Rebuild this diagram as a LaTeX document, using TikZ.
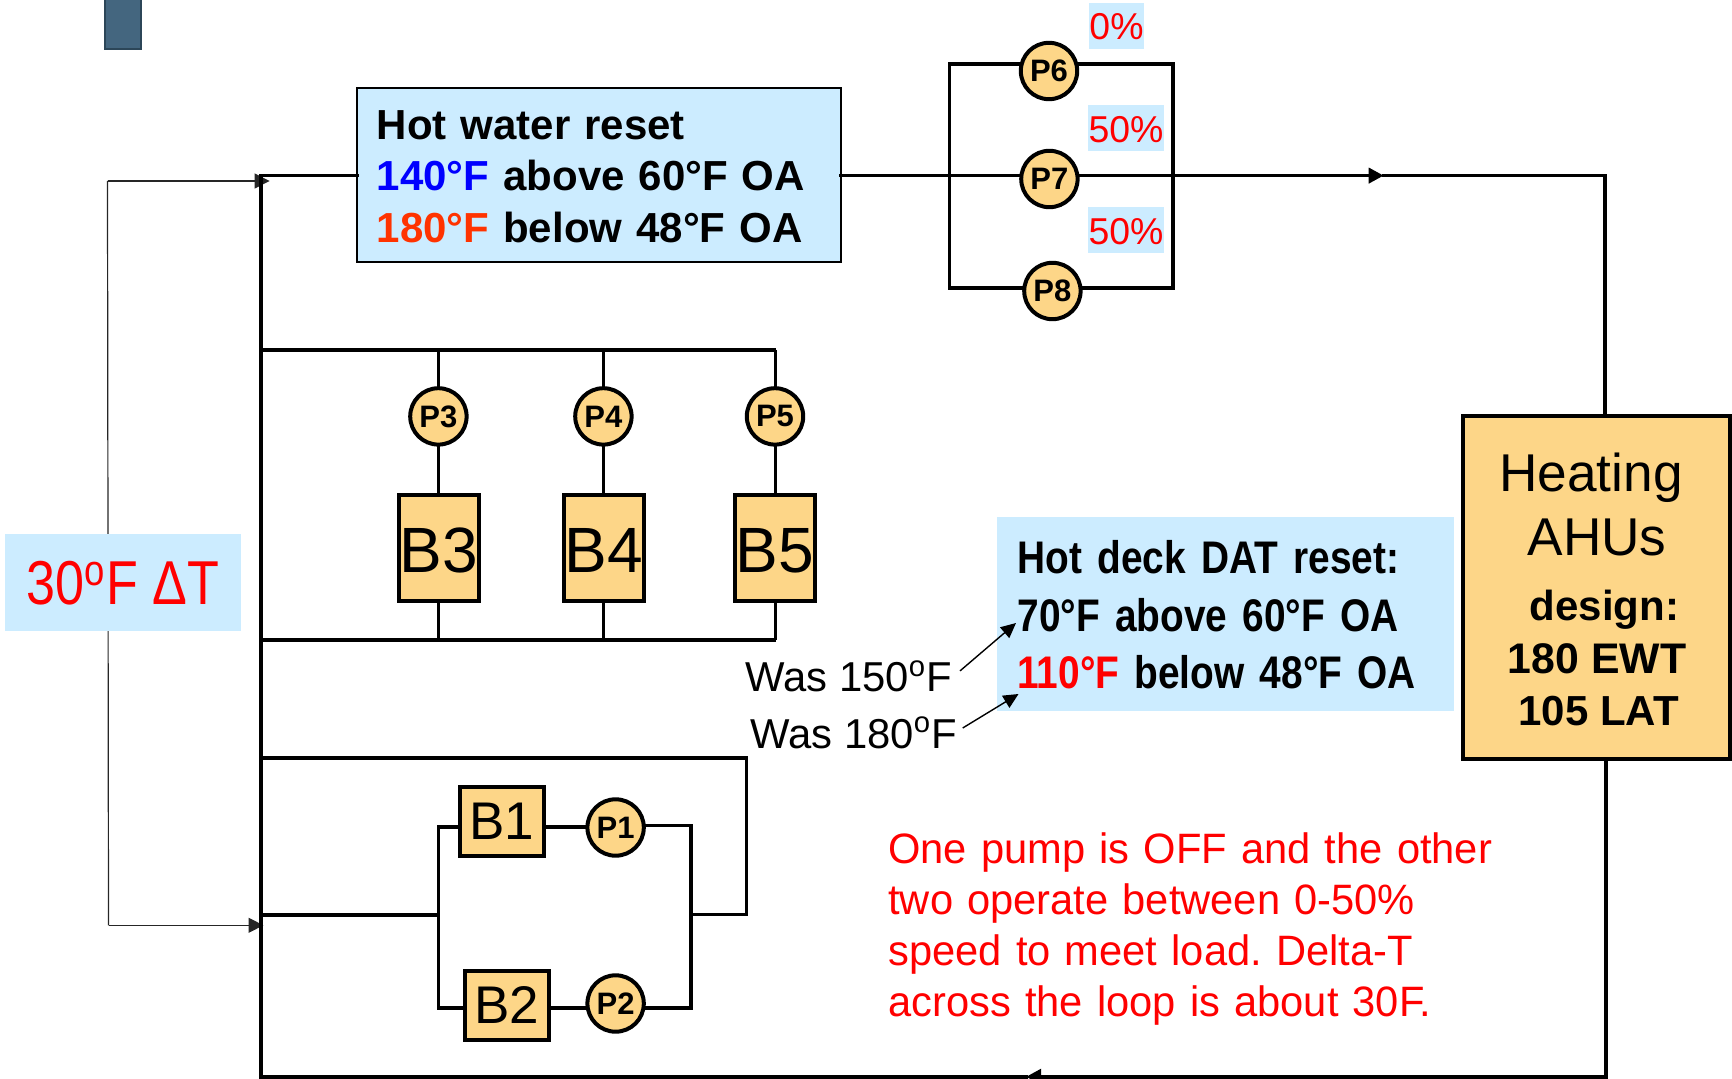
\documentclass[tikz,border=0pt]{standalone}
\usepackage{fontspec}
\setmainfont{Liberation Sans}
\newfontfamily\deckfont[FakeStretch=0.85]{Liberation Sans}
\newfontfamily\dtfont[FakeStretch=0.84]{Liberation Sans}
\newfontfamily\notefont[FakeStretch=0.98]{Liberation Sans}
\usetikzlibrary{arrows.meta}
\definecolor{skyb}{HTML}{CCECFF}
\definecolor{tan1}{HTML}{FDD688}
\definecolor{slate}{HTML}{44667F}
\definecolor{slated}{HTML}{2C4658}
\definecolor{hotr}{HTML}{FF3300}
\tikzset{
  x=0.5pt,y=-0.5pt,
  pipe/.style={line width=1.9pt,line join=miter,line cap=rect},
  thinl/.style={line width=0.6pt,color=black!85},
  pump/.style={circle,draw=black,fill=tan1,line width=2pt,inner sep=0pt,outer sep=0pt,minimum size=28.2pt,font=\fontsize{15.5}{18}\selectfont\bfseries},
  boiler/.style={rectangle,draw=black,fill=tan1,line width=2pt,inner sep=0pt,outer sep=0pt},
  bigb/.style={boiler,minimum width=40pt,minimum height=53pt,text height=24.6pt,text depth=0pt,font=\fontsize{32}{36}\selectfont},
  smallb/.style={boiler,minimum width=42pt,minimum height=34.75pt,font=\fontsize{26.5}{32}\selectfont},
  pct/.style={rectangle,fill=skyb,text=red,inner sep=0pt,minimum height=23pt,text height=14pt,text depth=0pt,font=\fontsize{18.7}{22}\selectfont},
  wasl/.style={anchor=base west,inner sep=0pt,font=\fontsize{20.9}{24}\selectfont},
  ptr/.style={line width=0.7pt,-{Triangle[length=7.5pt,width=7pt]}},
  midtip/.style={-{Triangle[length=7.5pt,width=7.5pt]}}
}
\begin{document}
\frenchspacing
\begin{tikzpicture}
\useasboundingbox (0,0) rectangle (1732,1079);
% marker
\node[rectangle,draw=slated,fill=slate,line width=1pt,minimum width=18.3pt,minimum height=27pt,inner sep=0pt] (mark) at (123,22) {};
% thin delta-T bracket
\coordinate (tA) at (269.6,181);
\coordinate (tB) at (107.5,181);
\coordinate (tC) at (108.5,925.3);
\coordinate (tD) at (263.5,925.3);
\draw[thinl] (tB) -- (tC);
\draw[thinl,midtip] (tB) -- (tA);
\draw[thinl,midtip] (tC) -- (tD);
% boxes
\node[rectangle,draw=black,fill=skyb,line width=1pt,inner xsep=10pt,inner ysep=0pt,outer sep=0pt,text width=222pt,minimum height=87pt,align=left,font=\fontsize{21}{25.8}\selectfont\bfseries] (HW) at (598.8,175.1)
 {\rule{0pt}{15.9pt}Hot water reset\\{\color{blue}140°F} above 60°F OA\\{\color{hotr}180°F} below 48°F OA};
\node[rectangle,fill=skyb,inner sep=0pt,minimum width=118pt,minimum height=48.3pt,text=red,font=\dtfont\fontsize{31}{36}\selectfont] (DT) at (123,582.7) {30\textsuperscript{o}F ΔT};
\node[rectangle,fill=skyb,inner xsep=10.2pt,inner ysep=0pt,text width=208.3pt,minimum height=96.75pt,align=left,font=\deckfont\fontsize{22.85}{28.8}\selectfont\bfseries] (DECK) at (1225.7,613.75)
 {\rule{0pt}{17.8pt}Hot deck DAT reset:\\70°F above 60°F OA\\{\color{red}110°F} below 48°F OA};
\node[boiler,minimum width=133.25pt,minimum height=171.5pt] (AHU) at (1596.3,587.5) {};
\node[align=center,inner sep=0pt,font=\fontsize{21}{25.7}\selectfont] (AHUtext) at (1597,589.6)
 {\fontsize{26.6}{25.7}\selectfont Heating\hspace*{6pt}\\[6.3pt]\fontsize{26.6}{25.7}\selectfont AHUs\\[6.5pt]\bfseries\hspace*{7.5pt}design:\\[1.1pt]\fontsize{21.4}{25.7}\selectfont\bfseries 180 EWT\hspace*{11pt}\\\bfseries\hspace*{1.5pt}105 LAT};
% percent labels
\node[pct,minimum width=27.5pt] (pc6) at (1116.5,26) {0\%};
\node[pct,minimum width=38pt] (pc7) at (1126,128.5) {50\%};
\node[pct,minimum width=38pt] (pc8) at (1126,230.5) {50\%};
% pumps
\node[pump] (P3) at (438.4,416.4) {P3};
\node[pump] (P4) at (603.4,416.4) {P4};
\node[pump] (P5) at (775,416.4) {P5};
\node[pump] (P6) at (1049,71) {P6};
\node[pump] (P7) at (1049.4,179) {P7};
\node[pump] (P8) at (1052.4,291) {P8};
\node[pump] (P1) at (615.6,827.5) {P1};
\node[pump] (P2) at (615.6,1003.5) {P2};
% boilers
\node[bigb] (B3) at (439,547.5) {B3};
\node[bigb] (B4) at (603.5,547.5) {B4};
\node[bigb] (B5) at (775,547.5) {B5};
\node[smallb] (B1) at (501.7,821.7) {B1};
\node[smallb] (B2) at (507,1005.4) {B2};
% junction coordinates
\coordinate (tl) at (261,175.6);
\coordinate (bl) at (261,1076.8);
\coordinate (br) at (1606,1076.8);
\coordinate (tr) at (1605,175.6);
\coordinate (hdrT) at (261,349.9);
\coordinate (hdrTe) at (774,349.9);
\coordinate (hdrB) at (261,640.2);
\coordinate (hdrBe) at (774,640.2);
\coordinate (loopT) at (261,758.3);
\coordinate (loopTe) at (746.5,758.3);
\coordinate (loopBe) at (746.5,914.5);
\coordinate (loopR) at (691,914.5);
\coordinate (inL) at (261,915.3);
\coordinate (inJ) at (438.4,915.3);
\coordinate (jt) at (438.4,827);
\coordinate (jb) at (438.4,1007.6);
\coordinate (rt) at (691,825.5);
\coordinate (rb) at (691,1008.3);
\coordinate (ltop) at (949.4,63.7);
\coordinate (lbot) at (949.4,288);
\coordinate (rtop) at (1173,63.7);
\coordinate (rbot) at (1173,288);
\coordinate (tipT) at (1383.7,175.6);
\coordinate (tipB) at (1026,1076.8);
% main loop
\draw[pipe] (HW.west |- tl) -- (tl) -- (bl) -- (tipB);
\draw[pipe,midtip] (br) -- (tipB);
\draw[pipe] (AHU.south -| br) -- (br);
\draw[pipe] (tipT) -- (tr) -- (AHU.north -| tr);
\draw[pipe,midtip] (P7.east |- tipT) -- (tipT);
\draw[pipe] (HW.east |- tipT) -- (P7.west |- tipT);
% parallel pumps
\draw[pipe] (P6.west |- ltop) -- (ltop) -- (lbot) -- (lbot -| P8.west);
\draw[pipe] (P6.east |- rtop) -- (rtop) -- (rbot) -- (rbot -| P8.east);
% B3-B5
\draw[pipe] (hdrT) -- (hdrTe);
\draw[pipe] (hdrB) -- (hdrBe);
\foreach \n/\b in {P3/B3,P4/B4,P5/B5}{
  \draw[line width=1.5pt] (hdrT -| \n) -- (\n.north);
  \draw[line width=1.5pt] (\n.south) -- (\n.south |- \b.north);
  \draw[line width=1.5pt] (\n.south |- \b.south) -- (hdrB -| \n);
}
% B1-B2 loop
\draw[pipe] (loopT) -- (loopTe) -- (loopBe) -- (loopR);
\draw[pipe] (inL) -- (inJ);
\draw[pipe] (jt -| B1.west) -- (jt) -- (jb) -- (jb -| B2.west);
\draw[pipe] (jt -| B1.east) -- (jt -| P1.west);
\draw[pipe] (jb -| B2.east) -- (jb -| P2.west);
\draw[pipe] (P1.east |- rt) -- (rt) -- (rb) -- (P2.east |- rb);
% Was labels and pointers
\node[wasl] (was1) at (745,691.8) {Was 150\textsuperscript{o}F};
\node[wasl] (was2) at (750,748) {Was 180\textsuperscript{o}F};
\coordinate (a1s) at (960,670.9);
\coordinate (a1e) at (1016,623);
\coordinate (a2s) at (962.7,728);
\coordinate (a2e) at (1018.5,694);
\draw[ptr] (a1s) -- (a1e);
\draw[ptr] (a2s) -- (a2e);
% note
\node[anchor=north west,inner sep=0pt,text=red,align=left,text width=320pt,font=\notefont\fontsize{21.25}{25.5}\selectfont] (note) at (888,832)
 {One pump is OFF and the other\\two operate between 0-50\%\\speed to meet load. Delta-T\\across the loop is about 30F.};
\end{tikzpicture}
\end{document}
